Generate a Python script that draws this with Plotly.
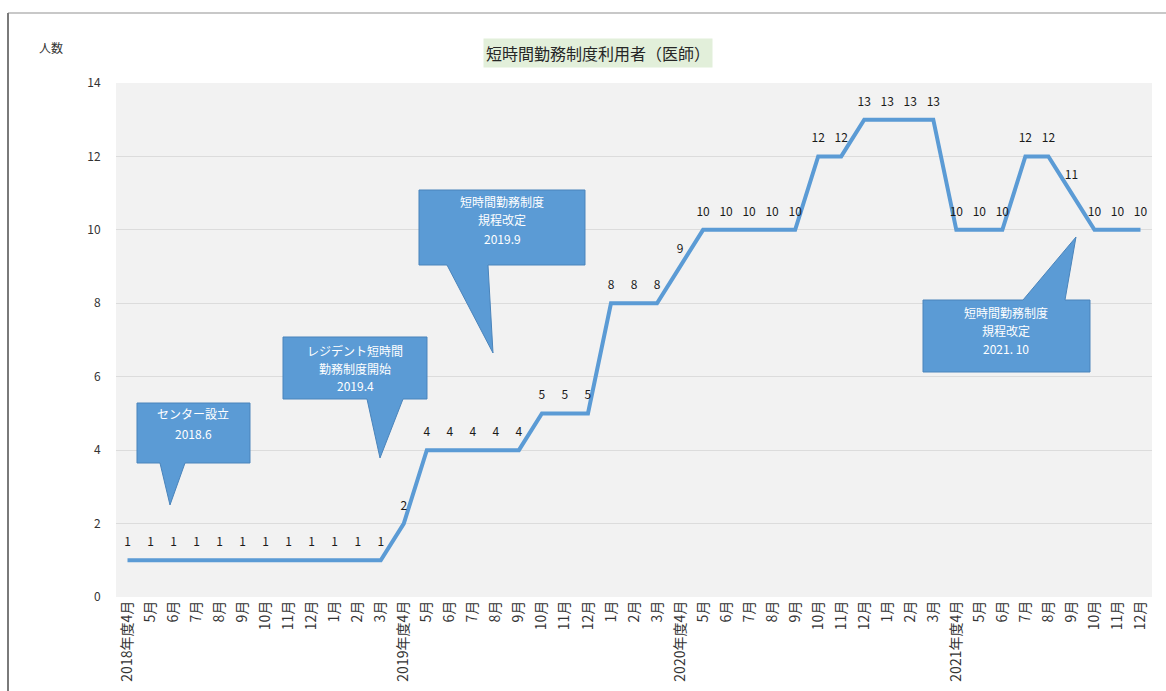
import plotly.graph_objects as go

# ---- data ----
months = ["2018年度4月", "5月", "6月", "7月", "8月", "9月", "10月", "11月", "12月", "1月", "2月", "3月",
          "2019年度4月", "5月", "6月", "7月", "8月", "9月", "10月", "11月", "12月", "1月", "2月", "3月",
          "2020年度4月", "5月", "6月", "7月", "8月", "9月", "10月", "11月", "12月", "1月", "2月", "3月",
          "2021年度4月", "5月", "6月", "7月", "8月", "9月", "10月", "11月", "12月"]
users = [1, 1, 1, 1, 1, 1, 1, 1, 1, 1, 1, 1,
         2, 4, 4, 4, 4, 4, 5, 5, 5, 8, 8, 8,
         9, 10, 10, 10, 10, 10, 12, 12, 13, 13, 13, 13,
         10, 10, 10, 12, 12, 11, 10, 10, 10]
y_ticks = [0, 2, 4, 6, 8, 10, 12, 14]
title_text = "短時間勤務制度利用者（医師）"
y_label = "人数"
callout_texts = [["センター設立", "2018.6"],
                 ["レジデント短時間", "勤務制度開始", "2019.4"],
                 ["短時間勤務制度", "規程改定", "2019.9"],
                 ["短時間勤務制度", "規程改定", "2021. 10"]]

W, H = 1166, 691
L, R, T, B = 116, 1152, 83, 597
FONT = "Noto Sans CJK JP"
BLUE = "#5b9bd5"

def px(x):
    return (x - L) / (R - L)

def py(y):
    return (B - y) / (B - T)

def path(points):
    return "M " + " L ".join(f"{px(a):.5f},{py(b):.5f}" for a, b in points) + " Z"

xs = list(range(len(months)))

fig = go.Figure()
fig.add_trace(go.Scatter(
    x=xs, y=users, mode="lines+markers+text",
    line=dict(color=BLUE, width=4),
    marker=dict(size=16, color="rgba(0,0,0,0)"),
    text=[str(v) for v in users], textposition="top center",
    textfont=dict(family=FONT, size=12, color="#1a1a1a"),
    hoverinfo="skip", showlegend=False, cliponaxis=False))

shapes = []
annotations = []

# page border lines
shapes.append(dict(type="line", xref="paper", yref="paper", x0=px(8), x1=px(1166), y0=py(13), y1=py(13),
                   line=dict(color="#c8c8c8", width=2)))
shapes.append(dict(type="line", xref="paper", yref="paper", x0=px(8), x1=px(8), y0=py(13), y1=py(691),
                   line=dict(color="#7a7a7a", width=2)))

# callouts: (polygon in px, first text line centre, line step)
callouts = [
    ([(137, 403), (250, 403), (250, 463), (185, 463), (170, 505), (160, 463), (137, 463)], (193, 414), 19),
    ([(283, 337), (427, 337), (427, 399), (403, 399), (380, 458), (367, 399), (283, 399)], (355, 351), 17),
    ([(419, 190), (585, 190), (585, 265), (488, 265), (493, 353), (447, 265), (419, 265)], (502, 201), 18.5),
    ([(923, 300), (1023, 300), (1076, 237), (1065, 300), (1090, 300), (1090, 372), (923, 372)], (1006, 312), 18),
]
for (poly, (cx, cy), step), lines in zip(callouts, callout_texts):
    shapes.append(dict(type="path", xref="paper", yref="paper", path=path(poly),
                       fillcolor=BLUE, line=dict(color="#4a84bb", width=1), layer="above"))
    for i, txt in enumerate(lines):
        annotations.append(dict(xref="paper", yref="paper", x=px(cx), y=py(cy + i * step), text=txt,
                                showarrow=False, font=dict(family=FONT, size=12, color="white"),
                                xanchor="center", yanchor="middle", borderpad=0))

# title
annotations.append(dict(xref="paper", yref="paper", x=px(598), y=py(53), text=title_text, showarrow=False,
                        font=dict(family=FONT, size=16, color="#262626"), bgcolor="#e2efda",
                        borderpad=2, xanchor="center", yanchor="middle"))
# y label
annotations.append(dict(xref="paper", yref="paper", x=px(37), y=py(47), text=y_label, showarrow=False,
                        font=dict(family=FONT, size=12, color="#333333"), xanchor="left", yanchor="middle"))

fig.update_layout(
    width=W, height=H,
    margin=dict(l=L, r=W - R, t=T, b=H - B, pad=0, autoexpand=False),
    paper_bgcolor="white", plot_bgcolor="#f2f2f2",
    font=dict(family=FONT, color="#333333"),
    shapes=shapes, annotations=annotations,
    xaxis=dict(range=[-0.5, len(months) - 0.5], tickmode="array", tickvals=xs, ticktext=months,
               tickangle=-90, tickfont=dict(family=FONT, size=14, color="#333333"), automargin=False,
               showgrid=False, zeroline=False, showline=False, ticks="", ticklen=0),
    yaxis=dict(range=[0, 14], tickmode="array", tickvals=y_ticks, ticktext=[str(v) for v in y_ticks],
               tickfont=dict(family=FONT, size=12, color="#333333"), automargin=False,
               showgrid=True, gridcolor="#dcdcdc", gridwidth=1, zeroline=False, showline=False,
               ticks="outside", ticklen=12, tickcolor="rgba(0,0,0,0)"),
)

fig.write_html("out.html")
